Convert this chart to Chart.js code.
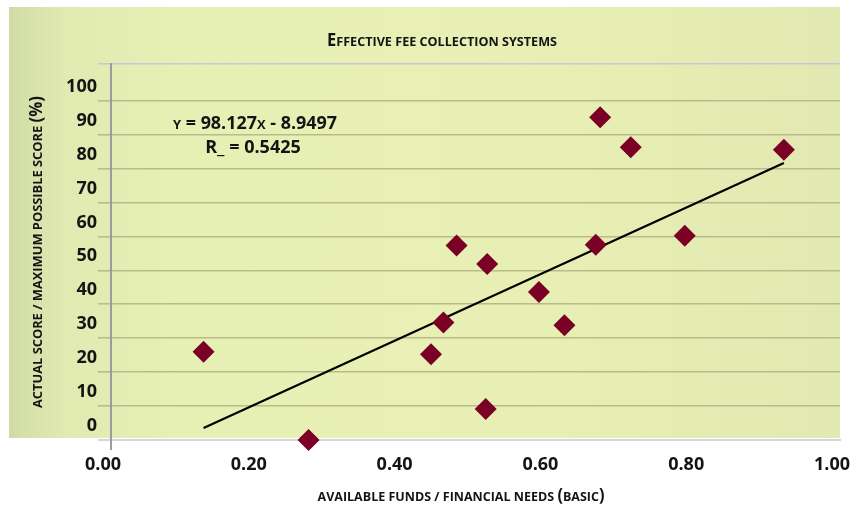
<!DOCTYPE html>
<html>
<head>
<meta charset="utf-8">
<script src="https://cdn.jsdelivr.net/npm/chart.js@4.4.1/dist/chart.umd.min.js"></script>
<style>
  html, body { margin: 0; padding: 0; background: #ffffff; }
  #wrap { width: 864px; height: 508px; }
</style>
</head>
<body>
<div id="wrap"><canvas id="chart" width="864" height="508"></canvas></div>
<script>
// Available funds / financial needs (basic) for each system
const fundsRatio = [0.127, 0.271, 0.439, 0.456, 0.474, 0.514, 0.516, 0.587, 0.622, 0.665, 0.671, 0.713, 0.787, 0.923];
// Actual score as a percentage of the maximum possible score
const scorePct   = [26.0, 0.0, 25.3, 34.6, 57.3, 9.1, 51.9, 43.6, 33.8, 57.5, 95.1, 86.3, 60.2, 85.5];

// Linear fit printed on the chart
const trendSlope = 98.127;
const trendIntercept = -8.9497;
const trendR2 = '0.5425';

// Axis ticks
const xTickValues = [0, 0.2, 0.4, 0.6, 0.8, 1.0];
const yTickValues = [0, 10, 20, 30, 40, 50, 60, 70, 80, 90, 100];
const yTop = 110.8;

const FONT = "'Open Sans', 'Noto Sans', 'DejaVu Sans', sans-serif";
const INK = '#141414';

const points = fundsRatio.map((x, i) => ({ x: x, y: scorePct[i] }));
const xMin = Math.min(...fundsRatio);
const xMax = Math.max(...fundsRatio);
const fit = x => trendSlope * x + trendIntercept;
const trend = [{ x: xMin, y: fit(xMin) }, { x: xMax, y: fit(xMax) }];

// Draws a run of text pieces of mixed sizes (small caps), centred on cx,
// squeezed horizontally when wider than maxW.
function drawRun(ctx, parts, cx, baseline, maxW) {
  let total = 0;
  parts.forEach(p => {
    ctx.font = 'bold ' + p[1] + 'px ' + FONT;
    p.w = ctx.measureText(p[0]).width;
    total += p.w;
  });
  const sx = maxW ? Math.min(1, maxW / total) : 1;
  ctx.save();
  ctx.translate(cx, baseline);
  ctx.scale(sx, 1);
  ctx.fillStyle = INK;
  ctx.textAlign = 'left';
  ctx.textBaseline = 'alphabetic';
  let x = -total / 2;
  parts.forEach(p => {
    ctx.font = 'bold ' + p[1] + 'px ' + FONT;
    ctx.fillText(p[0], x, 0);
    x += p.w;
  });
  ctx.restore();
}

const panelPlugin = {
  id: 'panel',
  beforeDraw(chart) {
    const ctx = chart.ctx;
    const a = chart.chartArea;
    const left = 9, top = 7, right = a.right, bottom = a.bottom - 2;
    const g = ctx.createLinearGradient(left, 0, right, 0);
    g.addColorStop(0.00, '#cfdba6');
    g.addColorStop(0.03, '#d8e2ab');
    g.addColorStop(0.07, '#e1eab1');
    g.addColorStop(0.20, '#e6efb4');
    g.addColorStop(0.50, '#e8f0b5');
    g.addColorStop(0.75, '#e6eeb3');
    g.addColorStop(0.90, '#e3eab2');
    g.addColorStop(1.00, '#e1e8b1');
    ctx.save();
    ctx.fillStyle = g;
    ctx.fillRect(left, top, right - left, bottom - top);
    ctx.restore();
  }
};

const textPlugin = {
  id: 'texts',
  afterDraw(chart) {
    const ctx = chart.ctx;
    // chart title
    drawRun(ctx, [['E', 17], ['FFECTIVE FEE COLLECTION SYSTEMS', 13]], 442, 46, 230);
    // x-axis title
    drawRun(ctx, [['AVAILABLE FUNDS / FINANCIAL NEEDS ', 13], ['(', 17], ['BASIC', 13], [')', 17]], 461, 501, 287);
    // y-axis title, rotated
    ctx.save();
    ctx.translate(42, 252);
    ctx.rotate(-Math.PI / 2);
    drawRun(ctx, [['ACTUAL SCORE / MAXIMUM POSSIBLE SCORE ', 13], ['(%)', 17]], 0, 0, 312);
    ctx.restore();
    // regression equation
    const sign = trendIntercept < 0 ? ' - ' : ' + ';
    drawRun(ctx, [['Y', 13], [' = ' + trendSlope, 18], ['X', 13], [sign + Math.abs(trendIntercept), 18]], 255, 129, 164);
    drawRun(ctx, [['R_ = ' + trendR2, 18]], 253, 153, 96);
  }
};

new Chart(document.getElementById('chart'), {
  type: 'scatter',
  data: {
    datasets: [
      {
        label: 'Systems',
        data: points,
        pointStyle: 'rectRot',
        pointRadius: 11,
        pointHoverRadius: 11,
        backgroundColor: '#7a0026',
        borderColor: '#7a0026',
        borderWidth: 0,
        clip: false,
        order: 0
      },
      {
        type: 'line',
        label: 'Linear fit',
        data: trend,
        borderColor: '#000000',
        borderWidth: 2.2,
        pointRadius: 0,
        fill: false,
        order: 1
      }
    ]
  },
  options: {
    responsive: false,
    animation: false,
    devicePixelRatio: 1,
    layout: { padding: { top: 64, right: 24, left: 0, bottom: 0 } },
    plugins: {
      legend: { display: false },
      title: { display: false },
      tooltip: { enabled: false }
    },
    scales: {
      x: {
        type: 'linear',
        min: 0,
        max: 1,
        afterBuildTicks: s => { s.ticks = xTickValues.map(v => ({ value: v })); },
        afterFit: s => { s.height = 68; },
        ticks: {
          autoSkip: false,
          maxRotation: 0,
          labelOffset: -8,
          padding: 4,
          color: INK,
          font: { family: FONT, size: 18, weight: 'bold' },
          callback: v => Number(v).toFixed(2)
        },
        grid: {
          drawOnChartArea: false,
          drawTicks: true,
          tickLength: 10,
          lineWidth: 2,
          color: c => (c.tick && c.tick.value === 0) ? '#9c9c9c' : 'rgba(0,0,0,0)'
        },
        border: { display: true, color: '#d6d6d6', width: 2 }
      },
      y: {
        type: 'linear',
        min: 0,
        max: yTop,
        afterBuildTicks: s => { s.ticks = yTickValues.concat([yTop]).map(v => ({ value: v })); },
        afterFit: s => { s.width = 111; },
        ticks: {
          autoSkip: false,
          labelOffset: -14,
          padding: 1,
          color: INK,
          font: { family: FONT, size: 18, weight: 'bold' },
          callback: v => (v <= 100 ? String(v) : '')
        },
        grid: {
          drawTicks: true,
          tickLength: 13,
          lineWidth: c => (c.tick && c.tick.value === 0) ? 2 : 1.6,
          color: c => {
            const v = c.tick ? c.tick.value : 0;
            if (v === 0) return '#d6d6d6';
            if (v > 100) return '#c9c7d6';
            return '#babb8b';
          }
        },
        border: { display: true, color: '#9c9c9c', width: 2 }
      }
    }
  },
  plugins: [panelPlugin, textPlugin]
});
</script>
</body>
</html>
